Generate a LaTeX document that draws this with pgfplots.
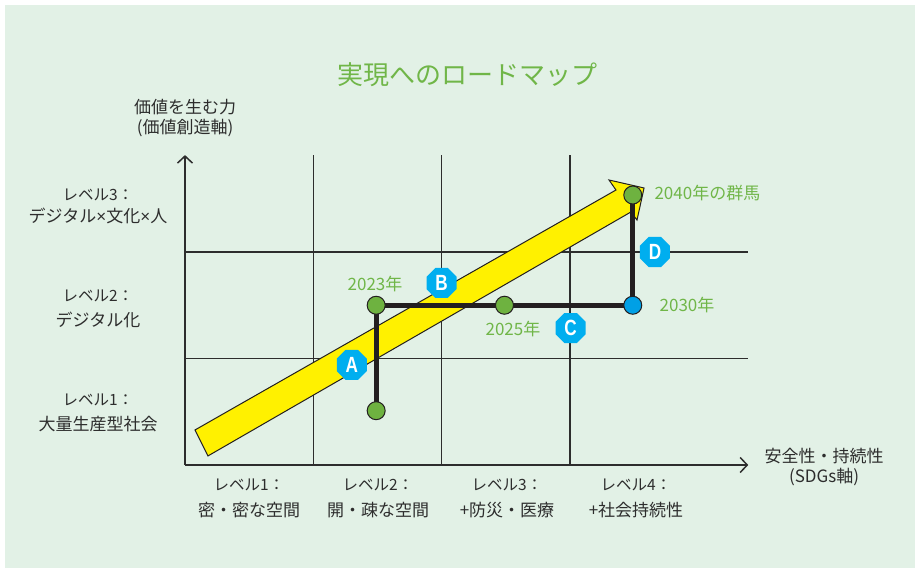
\documentclass[border=0pt]{standalone}
\usepackage{pgfplots}
\pgfplotsset{compat=1.18}
\usepackage{pgfplotstable}
\usepackage{fontspec}
\usepackage{graphicx}
\setmainfont{Noto Sans CJK JP}
\newfontfamily\letterfont{Liberation Sans}
\usetikzlibrary{arrows.meta,shapes.geometric}

\definecolor{bggreen}{RGB}{226,241,230}
\definecolor{txtgreen}{RGB}{112,182,72}
\definecolor{dotgreen}{RGB}{110,178,64}
\definecolor{dotblue}{RGB}{0,160,230}
\definecolor{hexcyan}{RGB}{0,174,239}
\definecolor{arrowyellow}{RGB}{255,241,0}
\definecolor{gridgray}{RGB}{45,45,45}
\definecolor{pathblack}{RGB}{35,31,32}
\definecolor{txtgray}{RGB}{45,45,45}

\newcommand\fs[1]{\fontsize{#1bp}{#1bp}\selectfont}
\newcommand\x{{\letterfont ×}}

% milestones on the road map
\pgfplotstableread{
x    y
1.49 0.51
1.49 1.50
2.49 1.50
3.49 2.535
}\greenpts

% phase markers A-D
\pgfplotstableread{
x     y     label
1.30  0.94  A
2.00  1.71  B
3.006 1.286 C
3.663 2.00  D
}\phases

\begin{document}
\begin{tikzpicture}
\useasboundingbox (0,0) rectangle (915bp,568bp);
\fill[bggreen] (5bp,0) rectangle (915bp,563bp);

\node[text=txtgreen, font=\fs{26}] at (467bp,493bp) {実現へのロードマップ};

\begin{axis}[
  at={(185bp,103bp)}, anchor=origin,
  x=128.3bp, y=106.5bp,
  xmin=0, xmax=4.39, ymin=0, ymax=2.91,
  axis lines=left,
  axis line style={line width=1.5bp, draw=gridgray},
  x axis line style={-{Straight Barb[length=7bp,width=15bp,line width=1.5bp]}},
  y axis line style={-{Straight Barb[length=7bp,width=15bp,line width=1.5bp]}},
  xtick={1,2,3}, ytick={1,2},
  xticklabels={}, yticklabels={},
  major tick length=0pt,
  grid=major,
  major grid style={line width=1.5bp, draw=gridgray},
  clip=false,
]
% big yellow arrow
\addplot[fill=arrowyellow, draw=pathblack, line width=1bp] coordinates {
  (0.078,0.329) (3.359,2.582) (3.305,2.676) (3.578,2.601)
  (3.523,2.300) (3.476,2.376) (0.179,0.085)
} -- cycle;

% route
\addplot[line width=5bp, draw=pathblack] coordinates {
  (1.49,0.51) (1.49,1.50) (3.49,1.50) (3.49,2.535)
};

\addplot[only marks, mark=*, mark size=9bp,
  mark options={fill=dotgreen, draw=pathblack, line width=1bp}]
  table[x=x, y=y] {\greenpts};
\addplot[only marks, mark=*, mark size=9bp,
  mark options={fill=dotblue, draw=pathblack, line width=1bp}]
  coordinates {(3.49,1.50)};

\addplot[only marks, mark=none, point meta=explicit symbolic,
  nodes near coords={\scalebox{0.78}[1]{\pgfplotspointmeta}},
  nodes near coords style={anchor=center, regular polygon,
    regular polygon sides=8, fill=hexcyan, minimum size=32.5bp,
    inner sep=0pt, text=white, font=\letterfont\bfseries\fs{22}}]
  table[x=x, y=y, meta=label] {\phases};

\node[text=txtgreen, font=\fs{17}] at (axis cs:1.481,1.70) {2023年};
\node[text=txtgreen, font=\fs{17}] at (axis cs:2.556,1.277) {2025年};
\node[text=txtgreen, font=\fs{17}] at (axis cs:3.913,1.502) {2030年};
\node[text=txtgreen, font=\fs{17}, anchor=west] at (axis cs:3.632,2.554) {2040年の群馬};
\end{axis}

% axis titles
\node[text=txtgray, font=\fs{17}] at (185bp,461bp) {価値を生む力};
\node[text=txtgray, font=\fs{17}] at (185bp,440bp) {(価値創造軸)};
\node[text=txtgray, font=\fs{17}] at (824bp,112bp) {安全性・持続性};
\node[text=txtgray, font=\fs{17}] at (824bp,91bp) {(SDGs軸)};

% y levels
\node[text=txtgray, font=\fs{15.5}] at (98bp,373bp) {レベル3：};
\node[text=txtgray, font=\fs{17}] at (98bp,352bp) {デジタル\x 文化\x 人};
\node[text=txtgray, font=\fs{15.5}] at (98bp,272bp) {レベル2：};
\node[text=txtgray, font=\fs{17}] at (98bp,248bp) {デジタル化};
\node[text=txtgray, font=\fs{15.5}] at (98bp,168bp) {レベル1：};
\node[text=txtgray, font=\fs{17}] at (98bp,144bp) {大量生産型社会};

% x levels
\foreach \cx/\top/\bot in {249/レベル1：/密・密な空間, 378/レベル2：/開・疎な空間,
    507/レベル3：/+防災・医療, 636/レベル4：/+社会持続性} {
  \node[text=txtgray, font=\fs{15.5}] at (\cx bp,83bp) {\top};
  \node[text=txtgray, font=\fs{17}] at (\cx bp,58bp) {\bot};
}
\end{tikzpicture}
\end{document}
